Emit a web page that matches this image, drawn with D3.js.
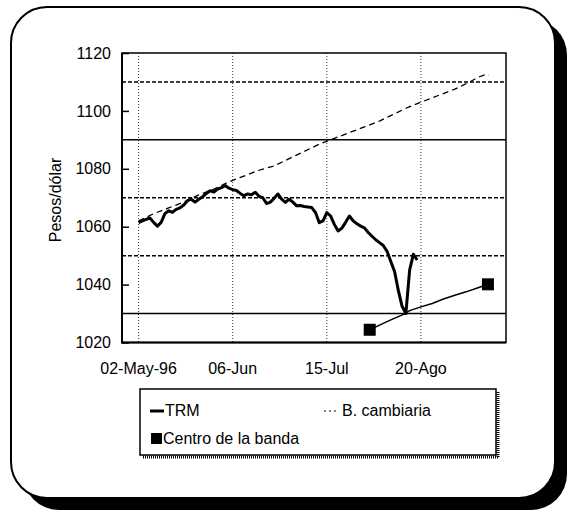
<!DOCTYPE html>
<html>
<head>
<meta charset="utf-8">
<script src="https://cdn.jsdelivr.net/npm/d3@7"></script>
<style>
  body { margin: 0; background: #fff; }
  text { font-family: "Liberation Sans", Arial, sans-serif; fill: #000; }
</style>
</head>
<body>
<div id="chart"></div>
<script>
// trading-day index on x
var trmIdx = [0,1,2,3,4,5,6,7,8,9,10,11,12,13,14,15,16,17,18,19,20,21,22,23,24,25,26,27,28,29,30,31,32,33,34,35,36,37,38,39,40,41,42,43,44,45,46,47,48,49,50,51,52,53,54,55,56,57,58,59,60,61,62,63,64,65,66,67,68,69,70,71,72,73,74];
var trmVal = [1061.4,1062,1062.5,1063,1061.5,1060.2,1061.5,1064.5,1065.5,1065,1066,1066.5,1067.5,1069,1069.5,1068.5,1069.5,1070.3,1071.5,1072.4,1072,1073,1073.5,1074.2,1073.3,1072.8,1072.5,1071.5,1070.7,1071.3,1071,1071.9,1070.5,1070,1068,1068.5,1069.8,1071.3,1069.5,1068.4,1069.5,1068.5,1067.2,1067.3,1067,1066.8,1066.6,1064.9,1061.4,1062,1064.9,1063.7,1060.8,1058.5,1059.5,1061.5,1063.7,1062,1061,1060.2,1059.6,1058,1056.7,1055.5,1054.5,1053.5,1051.5,1048,1044.5,1038,1032.5,1030,1045,1050.5,1048.5];

var bandIdx = [0,4,8,12,16,20,24,28,32,36,40,44,48,52,56,60,64,68,72,76,80,84,88,90,92,93];
var bandVal = [1062,1064.5,1066.5,1068.5,1071,1073,1075.5,1077.5,1079.5,1081,1083.5,1086,1088.5,1090.5,1092.5,1094.5,1096.5,1099,1101.5,1103.5,1105.5,1107.5,1110,1111.5,1112.5,1112.3];

var centroIdx = [61.4,64,67,70.7,72,75,78,81,84,87,90,92.8];
var centroVal = [1024.4,1026,1027.8,1029.9,1031,1032.3,1033.5,1035,1036.3,1037.5,1038.8,1040.1];

var xTickIdx = [0,25,50,75];
var xTickLabels = ["02-May-96","06-Jun","15-Jul","20-Ago"];
var yTicks = [1020,1040,1060,1080,1100,1120];
var solidLines = [1030,1090];
var dashedLines = [1050,1070,1110];

var W = 571, H = 529;
var svg = d3.select("#chart").append("svg")
  .attr("width", W).attr("height", H);

// frame with shadow
svg.append("rect").attr("x", 23).attr("y", 19).attr("width", 544).attr("height", 491)
  .attr("rx", 36).style("fill", "#000");
svg.append("rect").attr("x", 11).attr("y", 7).attr("width", 544).attr("height", 491)
  .attr("rx", 36).style("fill", "#fff").style("stroke", "#000").style("stroke-width", 2);

var x = d3.scaleLinear().domain([-4.4, 97.6]).range([122, 506]);
var y = d3.scaleLinear().domain([1020, 1120]).range([342.5, 53]);

var g = svg.append("g");

// vertical dotted grid
g.selectAll(".vg").data(xTickIdx).enter().append("line")
  .attr("x1", d => x(d)).attr("x2", d => x(d))
  .attr("y1", 53).attr("y2", 342.5)
  .style("stroke", "#333").style("stroke-width", 1).style("stroke-dasharray", "1,2");

g.selectAll(".hs").data(solidLines).enter().append("line")
  .attr("x1", 122).attr("x2", 506).attr("y1", d => y(d)).attr("y2", d => y(d))
  .style("stroke", "#000").style("stroke-width", 1.5);
g.selectAll(".hd").data(dashedLines).enter().append("line")
  .attr("x1", 122).attr("x2", 506).attr("y1", d => y(d)).attr("y2", d => y(d))
  .style("stroke", "#000").style("stroke-width", 1.5).style("stroke-dasharray", "4,2");

// plot border
g.append("rect").attr("x", 122).attr("y", 53).attr("width", 384).attr("height", 289.5)
  .style("fill", "none").style("stroke", "#000").style("stroke-width", 1.5);
g.append("line").attr("x1", 122).attr("x2", 122).attr("y1", 53).attr("y2", 343)
  .style("stroke", "#000").style("stroke-width", 2);
g.append("line").attr("x1", 121).attr("x2", 506).attr("y1", 342.5).attr("y2", 342.5)
  .style("stroke", "#000").style("stroke-width", 2);

// y axis ticks (inward) and labels
var yAxis = d3.axisLeft(y).tickValues(yTicks).tickSize(-7).tickFormat(d3.format("d"));
var ya = svg.append("g").attr("transform", "translate(122,0)").call(yAxis);
ya.select(".domain").remove();
ya.selectAll("line").style("stroke", "#000").style("stroke-width", 1.5);
ya.selectAll("text").style("font-size", "16px").attr("x", -11);

// x labels
svg.selectAll(".xl").data(xTickIdx).enter().append("text")
  .attr("x", (d, i) => x(d)).attr("y", 374)
  .attr("text-anchor", "middle").style("font-size", "16px")
  .text((d, i) => xTickLabels[i]);

svg.append("text").attr("transform", "translate(61,200) rotate(-90)")
  .attr("text-anchor", "middle").style("font-size", "16px").text("Pesos/dólar");

var line = d3.line().x(d => x(d[0])).y(d => y(d[1]));

svg.append("path").datum(d3.zip(bandIdx, bandVal)).attr("d", line)
  .style("fill", "none").style("stroke", "#000").style("stroke-width", 1.3).style("stroke-dasharray", "6,4");

svg.append("path").datum(d3.zip(centroIdx, centroVal)).attr("d", line)
  .style("fill", "none").style("stroke", "#000").style("stroke-width", 1.5);
var ends = [[centroIdx[0], centroVal[0]], [centroIdx[centroIdx.length - 1], centroVal[centroVal.length - 1]]];
svg.selectAll(".sq").data(ends).enter().append("rect")
  .attr("x", d => x(d[0]) - 6).attr("y", d => y(d[1]) - 6)
  .attr("width", 12).attr("height", 12).style("fill", "#000");

svg.append("path").datum(d3.zip(trmIdx, trmVal)).attr("d", line)
  .style("fill", "none").style("stroke", "#000").style("stroke-width", 3).style("stroke-linejoin", "round");

// legend
var lg = svg.append("g");
lg.append("line").attr("x1", 143).attr("x2", 499).attr("y1", 457).attr("y2", 457)
  .style("stroke", "#000").style("stroke-width", 3).style("stroke-dasharray", "1,1");
lg.append("line").attr("x1", 498).attr("x2", 498).attr("y1", 392).attr("y2", 457)
  .style("stroke", "#000").style("stroke-width", 3).style("stroke-dasharray", "1,1");
lg.append("rect").attr("x", 140).attr("y", 389).attr("width", 356).attr("height", 66)
  .style("fill", "#fff").style("stroke", "#000").style("stroke-width", 1.5);
lg.append("line").attr("x1", 150).attr("x2", 164).attr("y1", 411).attr("y2", 411)
  .style("stroke", "#000").style("stroke-width", 3);
lg.append("text").attr("x", 165).attr("y", 416).style("font-size", "16px").text("TRM");
lg.append("line").attr("x1", 324).attr("x2", 337).attr("y1", 411).attr("y2", 411)
  .style("stroke", "#000").style("stroke-width", 1).style("stroke-dasharray", "2,3");
lg.append("text").attr("x", 342).attr("y", 416).style("font-size", "16px").text("B. cambiaria");
lg.append("rect").attr("x", 151).attr("y", 433).attr("width", 11).attr("height", 11).style("fill", "#000");
lg.append("text").attr("x", 163).attr("y", 444).style("font-size", "16px").text("Centro de la banda");
</script>
</body>
</html>
